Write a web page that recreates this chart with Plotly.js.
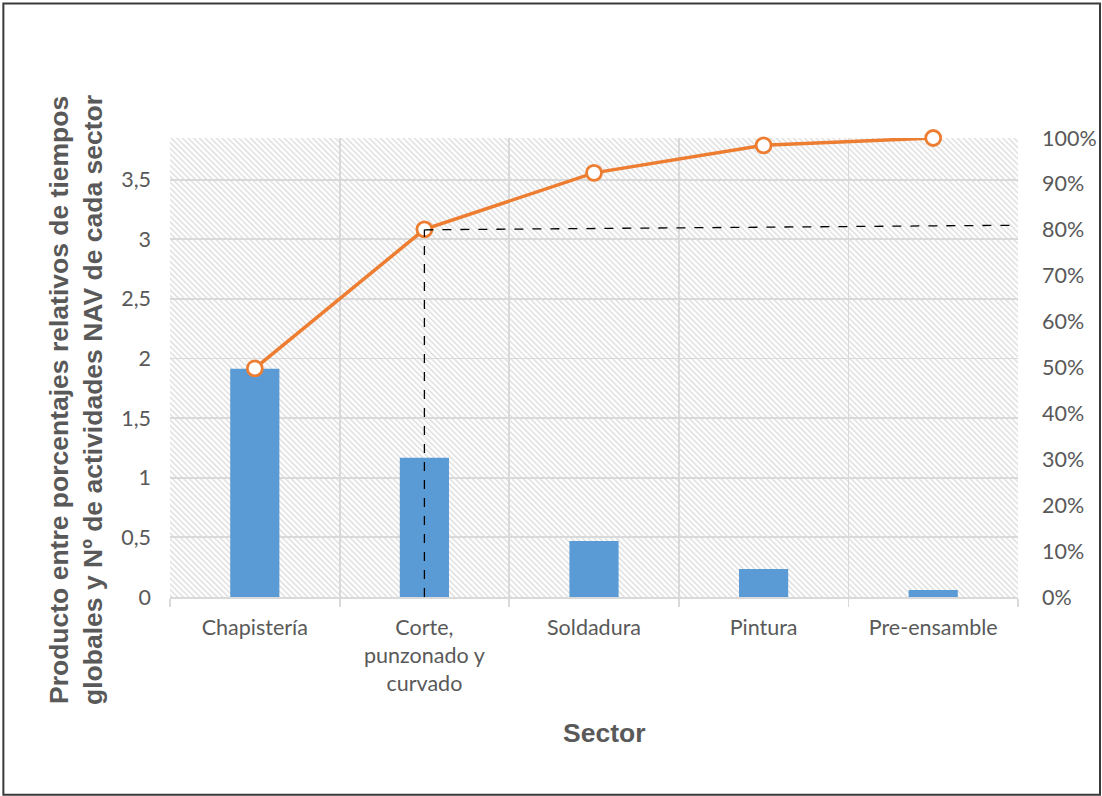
<!DOCTYPE html>
<html>
<head>
<meta charset="utf-8">
<script src="https://cdn.plot.ly/plotly-3.0.1.min.js"></script>
<style>html,body{margin:0;padding:0;background:#fff;}#chart{width:1102px;height:796px;}</style>
</head>
<body>
<div id="chart"></div>
<script>
// ---- data ----
const categories = ["Chapistería", "Corte,<br>punzonado y<br>curvado", "Soldadura", "Pintura", "Pre-ensamble"];
const values = [1.914, 1.167, 0.470, 0.235, 0.059];
const cumPct = [0.498, 0.801, 0.924, 0.984, 1.0];
const leftMax = 3.85;
const paretoCut = 0.80;
const paretoCutEnd = 0.81;
const cutCategory = 1;

// ---- styling ----
const GRID = "#d9d9d9";
const TXT = "#595959";

const hatchSvg = '<svg xmlns="http://www.w3.org/2000/svg" width="848" height="459">' +
  '<defs><pattern id="h" width="4" height="4" patternUnits="userSpaceOnUse" patternTransform="rotate(-45)">' +
  '<rect x="0" y="0" width="1.4" height="4" fill="#dcdcdc"/></pattern></defs>' +
  '<rect width="848" height="459" fill="url(#h)"/></svg>';
const hatchUri = "data:image/svg+xml;charset=utf-8," + encodeURIComponent(hatchSvg);

const bars = {
  type: "bar",
  x: categories,
  y: values,
  width: 0.29,
  marker: {color: "#5B9BD5"},
  hoverinfo: "skip",
  yaxis: "y"
};
const line = {
  type: "scatter",
  mode: "lines+markers",
  x: categories,
  y: cumPct,
  yaxis: "y2",
  line: {color: "#ED7D31", width: 3.5},
  marker: {symbol: "circle", size: 15, color: "#ffffff", line: {color: "#ED7D31", width: 2.8}},
  cliponaxis: false,
  hoverinfo: "skip"
};

const TICKFONT = {family: "Lato, sans-serif", size: 21.5, color: TXT};

const layout = {
  width: 1102,
  height: 796,
  margin: {l: 170, r: 84, t: 138, b: 199},
  paper_bgcolor: "#ffffff",
  plot_bgcolor: "rgba(0,0,0,0)",
  separators: ",.",
  showlegend: false,
  font: {family: "Lato, 'Liberation Sans', sans-serif", color: TXT, size: 21.5},
  xaxis: {
    type: "category",
    tickson: "boundaries",
    showgrid: true,
    gridcolor: GRID,
    gridwidth: 1.8,
    ticks: "outside",
    ticklen: 8,
    tickwidth: 1.8,
    tickcolor: GRID,
    showline: true,
    linecolor: GRID,
    linewidth: 1.8,
    ticklabelstandoff: 10,
    tickfont: TICKFONT,
    range: [-0.5, 4.5]
  },
  yaxis: {
    range: [0, leftMax],
    dtick: 0.5,
    tick0: 0,
    showgrid: true,
    gridcolor: GRID,
    gridwidth: 1.8,
    zeroline: false,
    ticks: "",
    ticklabelstandoff: 18,
    tickfont: TICKFONT,
    fixedrange: true
  },
  yaxis2: {
    overlaying: "y",
    side: "right",
    range: [0, 1],
    dtick: 0.1,
    tick0: 0,
    tickformat: ".0%",
    showgrid: false,
    zeroline: false,
    ticks: "",
    ticklabelstandoff: 23,
    tickfont: TICKFONT,
    fixedrange: true
  },
  images: [{
    source: hatchUri,
    xref: "paper", yref: "paper",
    x: 0, y: 1, sizex: 1, sizey: 1,
    xanchor: "left", yanchor: "top",
    sizing: "stretch",
    layer: "below"
  }],
  shapes: [
    {type: "line", xref: "x", yref: "y2", x0: cutCategory, x1: cutCategory, y0: 0, y1: paretoCut,
     line: {color: "#000000", width: 1.3, dash: "dash"}},
    {type: "line", xref: "x", yref: "y2", x0: cutCategory, x1: 4.5, y0: paretoCut, y1: paretoCutEnd,
     line: {color: "#000000", width: 1.3, dash: "dash"}},
    {type: "rect", xref: "paper", yref: "paper", x0: -0.1965, x1: 1.0967, y0: -0.431, y1: 1.293,
     line: {color: "#3a3a3a", width: 2}, fillcolor: "rgba(0,0,0,0)"}
  ],
  annotations: [
    {text: "<b>Producto entre porcentajes relativos de tiempos<br>globales y Nº de actividades NAV de cada sector</b>",
     xref: "paper", yref: "paper", x: -0.111, y: 0.429, xanchor: "center", yanchor: "middle",
     textangle: -90, showarrow: false,
     font: {family: "'Liberation Sans', Arial, sans-serif", size: 26.5, color: TXT}},
    {text: "<b>Sector</b>",
     xref: "paper", yref: "paper", x: 0.512, y: -0.296, xanchor: "center", yanchor: "middle",
     showarrow: false,
     font: {family: "'Liberation Sans', Arial, sans-serif", size: 26.5, color: TXT}}
  ]
};

Plotly.newPlot("chart", [bars, line], layout, {displayModeBar: false, staticPlot: true});
</script>
</body>
</html>
